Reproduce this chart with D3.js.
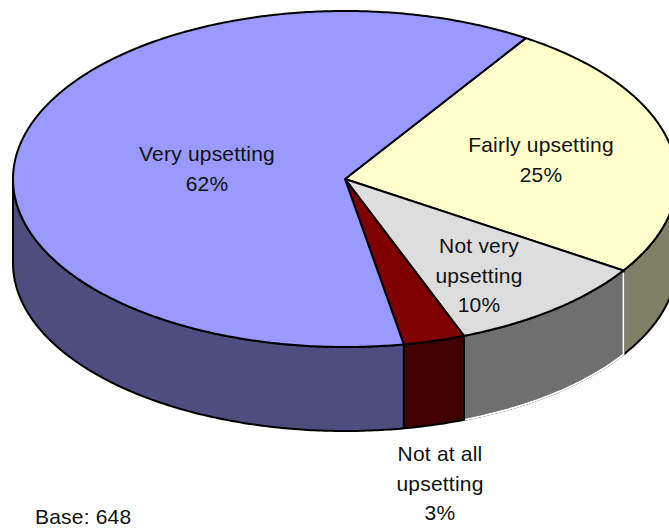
<!DOCTYPE html>
<html><head><meta charset="utf-8">
<script src="https://cdn.jsdelivr.net/npm/d3@7"></script>
<style>html,body{margin:0;padding:0;background:#fff}svg{display:block}text{font-family:"Liberation Sans",Arial,sans-serif;font-size:21px;letter-spacing:0.2px;fill:#111;text-anchor:middle}</style>
</head><body><div id="c"></div>
<script>
const categories=["Fairly upsetting","Not very upsetting","Not at all upsetting","Very upsetting"];
const values=[25,10,3,62];
const topColors=["#ffffcc","#dddddd","#800000","#9999ff"];
const sideColors=["#808066","#6f6f6f","#400000","#4d4d80"];
const labelLines=[["Fairly upsetting","25%"],["Not very","upsetting","10%"],["Not at all","upsetting","3%"],["Very upsetting","62%"]];
const labelPos=[[541,145],[479,246],[440,454],[207,154]];
const W=669,H=528,cx=345,cy=179,rx=332,ry=168,depth=84,lh=29.5;
const svg=d3.select("#c").append("svg").attr("width",W).attr("height",H);
const pie=d3.pie().sort(null).value(d=>d).startAngle(33*Math.PI/180).endAngle(393*Math.PI/180);
const arcs=pie(values);
const X=d3.scaleLinear().domain([-1,1]).range([cx-rx,cx+rx]);
const Y=d3.scaleLinear().domain([-1,1]).range([cy+ry,cy-ry]);
const px=a=>X(Math.sin(a)),py=a=>Y(Math.cos(a));
const line=d3.line();
const samples=(a0,a1)=>{const n=Math.max(2,Math.ceil((a1-a0)/0.01));return d3.range(n+1).map(i=>a0+(a1-a0)*i/n)};
const PI=Math.PI;
arcs.forEach((d,i)=>{
  const a0=Math.max(d.startAngle,PI/2),a1=Math.min(d.endAngle,1.5*PI);
  if(a1<=a0)return;
  const s=samples(a0,a1);
  const pts=s.map(a=>[px(a),py(a)]).concat(s.slice().reverse().map(a=>[px(a),py(a)+depth]));
  svg.append("path").attr("d",line(pts)+"Z").attr("fill",sideColors[i]).attr("stroke","#000").attr("stroke-width",2).attr("stroke-linejoin","round");
  if(i===1){
    svg.append("path").attr("d",line([[px(a0),py(a0)+2],[px(a0),py(a0)+depth]].concat(s.map(a=>[px(a),py(a)+depth])))).attr("fill","none").attr("stroke","#fff").attr("stroke-width",2);
    svg.append("path").attr("d",line([[px(a1),py(a1)],[px(a1),py(a1)+depth]])).attr("fill","none").attr("stroke","#000").attr("stroke-width",2);
  }
});
arcs.forEach((d,i)=>{
  const s=samples(d.startAngle,d.endAngle);
  const pts=[[cx,cy]].concat(s.map(a=>[px(a),py(a)]));
  svg.append("path").attr("d",line(pts)+"Z").attr("fill",topColors[i]).attr("stroke","#000").attr("stroke-width",2).attr("stroke-linejoin","round");
});
labelLines.forEach((ls,i)=>{
  ls.forEach((t,j)=>svg.append("text").attr("x",labelPos[i][0]).attr("y",labelPos[i][1]+j*lh+7).text(t));
});
svg.append("text").attr("x",35).attr("y",524).style("text-anchor","start").text("Base: 648");
</script></body></html>
